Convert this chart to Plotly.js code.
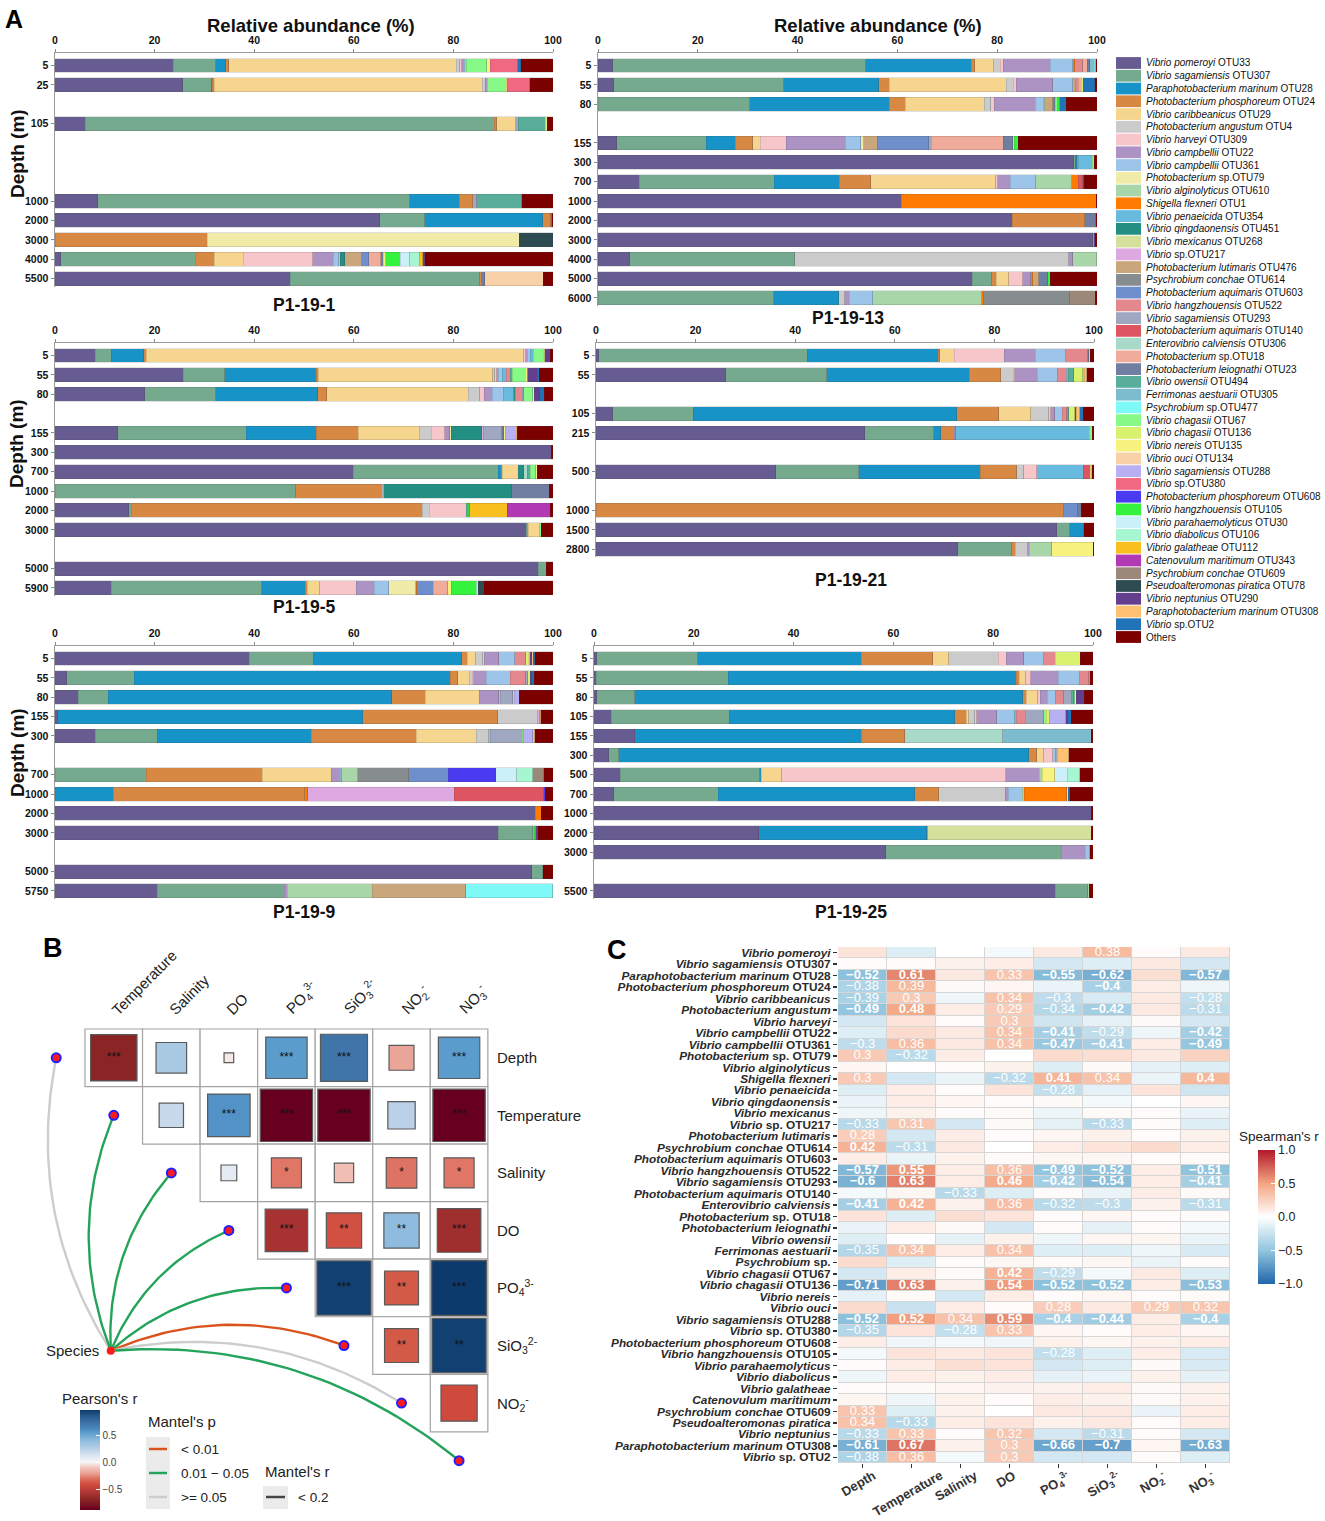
<!DOCTYPE html>
<html><head><meta charset="utf-8">
<script src="https://cdn.plot.ly/plotly-3.0.1.min.js"></script>
<style>html,body{margin:0;padding:0;background:#fff;}#chart{width:1325px;height:1521px;}</style>
</head><body><div id="chart"></div>
<script>
// ================= DATA =================
const species = [
 ['Vibrio pomeroyi','OTU33'],['Vibrio sagamiensis','OTU307'],['Paraphotobacterium marinum','OTU28'],
 ['Photobacterium phosphoreum','OTU24'],['Vibrio caribbeanicus','OTU29'],['Photobacterium angustum','OTU4'],
 ['Vibrio harveyi','OTU309'],['Vibrio campbellii','OTU22'],['Vibrio campbellii','OTU361'],
 ['Photobacterium','sp.OTU79'],['Vibrio alginolyticus','OTU610'],['Shigella flexneri','OTU1'],
 ['Vibrio penaeicida','OTU354'],['Vibrio qingdaonensis','OTU451'],['Vibrio mexicanus','OTU268'],
 ['Vibrio','sp.OTU217'],['Photobacterium lutimaris','OTU476'],['Psychrobium conchae','OTU614'],
 ['Photobacterium aquimaris','OTU603'],['Vibrio hangzhouensis','OTU522'],['Vibrio sagamiensis','OTU293'],
 ['Photobacterium aquimaris','OTU140'],['Enterovibrio calviensis','OTU306'],['Photobacterium','sp.OTU18'],
 ['Photobacterium leiognathi','OTU23'],['Vibrio owensii','OTU494'],['Ferrimonas aestuarii','OTU305'],
 ['Psychrobium','sp.OTU477'],['Vibrio chagasii','OTU67'],['Vibrio chagasii','OTU136'],
 ['Vibrio nereis','OTU135'],['Vibrio ouci','OTU134'],['Vibrio sagamiensis','OTU288'],
 ['Vibrio','sp.OTU380'],['Photobacterium phosphoreum','OTU608'],['Vibrio hangzhouensis','OTU105'],
 ['Vibrio parahaemolyticus','OTU30'],['Vibrio diabolicus','OTU106'],['Vibrio galatheae','OTU112'],
 ['Catenovulum maritimum','OTU343'],['Psychrobium conchae','OTU609'],['Pseudoalteromonas piratica','OTU78'],
 ['Vibrio neptunius','OTU290'],['Paraphotobacterium marinum','OTU308'],['Vibrio','sp.OTU2'],['','Others']
];
const speciesColors = ['#665c92','#76aa8f','#1793c8','#d78944','#f6d58f','#cbcbcb','#f7c6cb','#ad93c3','#9cc5e9',
 '#f0eca8','#a9d6a8','#ff7a00','#68bade','#238f83','#d4e09b','#dda9e0','#c9a67b','#878d8f','#6f8ecc','#e3888c',
 '#a0a8c1','#dc5560','#a9d9c9','#f0ab9b','#6f7ea1','#59ae9b','#7dbbcf','#7ff8f8','#86f986','#d8f26f','#f7f27d',
 '#f9d1a9','#b7b1f3','#f16882','#4b3bf0','#34f23e','#cbf0f9','#a6f6d2','#f8bf1f','#b13ab4','#9c8878','#2f4b52',
 '#643f8f','#fdc171','#1f73b6','#7b0000'];

// composition per depth: [species index, relative abundance %]; null = depth not sampled
const st1Depths = ['5','25','55','105','155','300','700','1000','2000','3000','4000','5500'];
const st1Comp = [
 [[0,23.7],[1,8.6],[2,2.0],[3,0.6],[4,45.7],[5,0.7],[6,0.4],[7,0.5],[8,0.4],[28,4.1],[30,0.7],[33,5.5],[44,0.6],[45,6.5]],
 [[0,25.7],[1,5.7],[2,0.2],[3,0.35],[4,53.8],[5,0.6],[7,0.4],[28,3.9],[30,0.15],[33,4.5],[45,4.7]],
 null,
 [[0,6.1],[1,82.1],[3,0.5],[4,3.8],[20,0.5],[25,5.4],[29,0.4],[45,1.2]],
 null, null, null,
 [[0,8.6],[1,62.6],[2,10.0],[3,2.7],[20,0.8],[25,9.0],[45,6.3]],
 [[0,65.2],[1,9.0],[2,23.7],[3,1.6],[24,0.2],[45,0.3]],
 [[3,30.6],[9,62.6],[41,6.8]],
 [[0,1.2],[1,27.0],[3,3.8],[4,5.8],[6,14.0],[7,4.1],[8,1.1],[10,0.3],[13,0.9],[16,3.4],[18,1.4],[23,2.4],[24,0.5],[30,0.5],[35,2.9],[36,1.9],[37,1.9],[38,0.7],[42,0.4],[45,25.8]],
 [[0,47.2],[1,38.1],[3,0.4],[24,0.6],[31,11.7],[45,2.0]]
];
const st2Depths = ['5','55','80','105','155','300','700','1000','2000','3000','4000','5000','6000'];
const st2Comp = [
 [[0,3.0],[1,50.7],[2,21.1],[3,0.7],[4,3.8],[5,1.3],[6,0.6],[7,9.4],[8,4.5],[11,0.4],[19,1.6],[23,0.9],[24,0.5],[26,0.9],[27,0.3],[45,0.3]],
 [[0,3.2],[1,34.0],[2,19.1],[3,2.1],[4,23.4],[5,1.4],[6,0.6],[7,7.3],[8,4.0],[16,0.5],[19,0.6],[23,0.6],[29,0.4],[44,2.3],[45,0.5]],
 [[1,30.4],[2,28.0],[3,3.2],[4,15.8],[5,1.3],[6,0.7],[7,8.2],[8,1.6],[10,0.3],[16,1.6],[24,0.5],[28,0.4],[35,0.5],[44,1.3],[45,6.2]],
 null,
 [[0,3.8],[1,17.9],[2,5.8],[3,3.5],[4,1.5],[6,5.2],[7,11.8],[8,3.2],[9,0.6],[16,2.7],[18,10.3],[20,0.5],[23,14.4],[24,1.9],[31,0.3],[35,0.8],[45,15.8]],
 [[0,95.3],[1,0.3],[2,0.3],[11,0.3],[12,2.8],[28,0.4],[45,0.6]],
 [[0,8.3],[1,27.0],[2,13.0],[3,6.4],[4,25.0],[6,0.4],[7,2.5],[8,5.1],[10,7.2],[11,1.3],[21,0.9],[42,0.3],[45,2.6]],
 [[0,60.8],[11,39.0],[45,0.2]],
 [[0,83.0],[3,14.5],[24,2.2],[45,0.3]],
 [[0,99.1],[1,0.3],[42,0.2],[45,0.4]],
 [[0,6.4],[1,33.0],[5,54.9],[7,0.8],[10,4.8],[30,0.1]],
 [[0,75.0],[1,3.9],[3,0.9],[4,2.5],[6,2.8],[7,1.6],[11,0.4],[16,1.2],[24,1.8],[35,0.5],[45,9.4]],
 [[1,35.2],[2,13.0],[5,1.2],[7,0.9],[8,4.8],[10,21.8],[11,0.4],[17,17.2],[40,5.1],[45,0.4]]
];
const st3Depths = ['5','55','80','105','155','300','700','1000','2000','3000','4000','5000','5900'];
const st3Comp = [
 [[0,8.1],[1,3.2],[2,6.5],[3,0.5],[4,75.8],[6,0.4],[7,0.3],[8,0.6],[12,0.6],[28,2.0],[29,0.3],[33,0.1],[42,1.0],[45,0.6]],
 [[0,25.8],[1,8.3],[2,18.4],[3,0.4],[4,35.0],[5,0.4],[6,0.4],[7,0.3],[8,0.8],[12,0.8],[19,0.8],[25,0.4],[28,2.6],[30,0.4],[33,0.2],[42,1.8],[44,0.4],[45,2.8]],
 [[0,18.0],[1,14.3],[2,20.5],[3,1.8],[4,28.4],[5,2.3],[6,0.9],[7,1.6],[8,2.2],[12,2.1],[13,0.3],[19,1.4],[20,0.3],[28,1.8],[30,0.3],[42,1.1],[44,0.9],[45,1.8]],
 null,
 [[0,12.6],[1,25.8],[2,14.1],[3,8.4],[4,12.2],[5,2.5],[6,2.7],[7,1.0],[9,0.3],[13,6.1],[15,0.4],[20,3.6],[24,0.4],[30,0.3],[32,2.2],[43,0.2],[45,7.2]],
 [[0,99.6],[45,0.4]],
 [[0,59.9],[1,29.1],[2,0.6],[3,0.2],[4,3.2],[13,1.1],[22,0.7],[25,0.6],[28,1.1],[30,0.3],[45,3.2]],
 [[1,48.3],[3,17.4],[5,0.3],[13,25.7],[24,7.5],[45,0.8]],
 [[0,14.8],[1,0.5],[3,58.4],[5,1.4],[6,7.5],[25,0.4],[35,0.3],[38,7.5],[39,8.6],[45,0.6]],
 [[0,94.6],[1,0.4],[4,2.2],[28,0.4],[45,2.4]],
 null,
 [[0,97.0],[1,1.6],[45,1.4]],
 [[0,11.3],[1,30.2],[2,8.8],[3,0.4],[4,2.5],[6,7.3],[7,3.6],[8,2.9],[9,5.4],[11,0.2],[18,3.4],[23,2.9],[30,0.7],[35,5.0],[37,0.4],[41,1.1],[45,13.9]]
];
const st4Depths = ['5','55','80','105','215','300','500','700','1000','1500','2800'];
const st4Comp = [
 [[0,0.6],[1,41.8],[2,26.3],[3,0.3],[4,2.9],[6,10.1],[7,6.2],[8,6.1],[19,4.4],[24,0.2],[28,0.3],[45,0.8]],
 [[0,26.1],[1,20.2],[2,28.6],[3,6.4],[5,2.5],[6,0.3],[7,4.5],[8,4.0],[19,1.8],[20,0.4],[25,1.1],[29,1.8],[32,0.3],[43,0.5],[45,1.5]],
 null,
 [[0,3.4],[1,16.1],[2,52.9],[3,8.5],[4,6.4],[5,3.6],[6,0.4],[7,0.8],[8,1.5],[19,0.9],[25,0.4],[29,1.2],[42,0.3],[43,0.7],[44,0.7],[45,2.2]],
 [[0,54.0],[1,13.8],[2,1.4],[3,2.7],[7,0.3],[12,26.8],[28,0.4],[30,0.2],[45,0.4]],
 null,
 [[0,36.1],[1,16.7],[2,24.4],[3,7.3],[5,1.4],[6,2.6],[12,9.3],[21,1.4],[30,0.3],[45,0.5]],
 null,
 [[3,93.8],[18,2.8],[24,0.8],[45,2.6]],
 [[0,92.5],[1,2.6],[2,2.8],[45,2.1]],
 [[0,72.6],[1,10.9],[3,0.7],[5,2.5],[7,0.3],[10,4.5],[30,8.3],[45,0.2]]
];
const st5Depths = ['5','55','80','155','300','500','700','1000','2000','3000','4000','5000','5750'];
const st5Comp = [
 [[0,39.0],[1,12.9],[2,29.8],[3,1.1],[4,1.7],[5,1.4],[6,0.3],[7,2.9],[8,3.2],[19,2.2],[29,0.5],[30,0.3],[42,0.4],[43,0.3],[44,0.3],[45,3.7]],
 [[0,2.4],[1,13.5],[2,63.5],[3,1.5],[4,2.3],[5,0.6],[6,0.3],[7,2.5],[8,4.8],[19,3.1],[20,0.4],[29,0.5],[42,0.4],[44,0.4],[45,3.8]],
 [[0,4.7],[1,6.0],[2,56.9],[3,6.7],[4,10.9],[7,3.9],[8,0.3],[20,2.5],[28,0.3],[32,1.0],[45,6.8]],
 [[0,0.6],[2,61.2],[3,27.1],[5,7.9],[15,0.5],[43,0.2],[45,2.5]],
 [[0,8.1],[1,12.4],[2,31.0],[3,21.0],[4,12.1],[5,2.5],[8,0.4],[20,6.3],[28,0.2],[32,1.9],[43,0.4],[45,3.7]],
 null,
 [[1,18.3],[3,23.3],[4,13.9],[7,1.8],[8,0.3],[10,3.2],[17,10.2],[18,8.0],[34,9.5],[36,4.2],[37,3.2],[40,2.2],[45,1.9]],
 [[2,11.7],[3,38.4],[11,0.7],[15,29.4],[21,17.9],[34,0.3],[45,1.6]],
 [[0,96.4],[11,1.2],[45,2.4]],
 [[0,89.0],[1,6.9],[12,0.3],[35,0.3],[42,0.4],[45,3.1]],
 null,
 [[0,95.7],[1,2.2],[45,2.1]],
 [[0,20.5],[1,25.5],[7,0.6],[10,17.1],[16,18.8],[27,17.4],[45,0.1]]
];
const st6Depths = ['5','55','80','105','155','300','500','700','1000','2000','3000','4000','5500'];
const st6Comp = [
 [[0,0.6],[1,20.2],[2,32.8],[3,14.3],[4,3.2],[5,9.9],[6,1.6],[7,3.5],[8,4.0],[19,2.3],[29,5.0],[45,2.6]],
 [[0,0.4],[1,26.5],[2,57.7],[3,0.6],[4,1.3],[6,1.0],[7,5.5],[8,4.3],[19,1.8],[28,0.2],[45,0.7]],
 [[0,0.5],[1,7.7],[2,77.7],[3,0.7],[4,2.3],[6,0.5],[7,1.4],[8,1.6],[19,1.7],[20,1.6],[25,0.4],[28,0.2],[30,0.3],[42,1.6],[45,1.8]],
 [[0,3.5],[1,23.6],[2,45.2],[3,2.3],[4,0.5],[5,1.2],[6,0.4],[7,4.0],[8,3.5],[12,0.4],[19,1.8],[20,3.7],[28,0.5],[29,0.6],[32,3.3],[42,0.4],[44,0.7],[45,4.4]],
 [[0,8.2],[2,45.4],[3,8.7],[22,19.6],[26,17.7],[45,0.4]],
 [[0,3.0],[1,2.0],[2,82.1],[3,1.6],[4,1.4],[6,1.8],[8,0.6],[20,0.3],[43,2.3],[45,4.9]],
 [[0,5.3],[1,27.9],[2,0.3],[4,4.1],[6,44.9],[7,6.7],[10,0.6],[30,2.5],[36,2.5],[37,2.5],[45,2.7]],
 [[0,4.0],[1,20.9],[2,39.4],[3,4.8],[5,13.3],[7,0.6],[8,2.8],[10,0.4],[11,8.5],[30,0.3],[44,0.3],[45,4.7]],
 [[0,99.6],[45,0.4]],
 [[0,33.0],[2,33.7],[10,0.2],[14,32.7],[45,0.4]],
 [[0,58.5],[1,35.1],[7,4.8],[8,0.9],[45,0.7]],
 null,
 [[0,92.4],[1,6.5],[10,0.3],[45,0.8]]
];
const stationNames = ['P1-19-1','P1-19-13','P1-19-5','P1-19-21','P1-19-9','P1-19-25'];

// Panel B: environmental factors, Pearson r (upper triangle rows), significance, Mantel p classes
const envVars = ['Depth','Temperature','Salinity','DO','PO4','SiO3','NO2','NO3'];
const envLabels = ['Depth','Temperature','Salinity','DO','PO<sub>4</sub><sup>3-</sup>','SiO<sub>3</sub><sup>2-</sup>','NO<sub>2</sub><sup>-</sup>','NO<sub>3</sub><sup>-</sup>'];
const pearsonR = [
 [-0.69, 0.30, -0.03, 0.55, 0.71, -0.20, 0.55],
 [0.19, 0.58, -0.88, -0.88, 0.24, -0.88],
 [0.08, -0.29, -0.12, -0.30, -0.29],
 [-0.58, -0.40, 0.40, -0.61],
 [0.94, -0.37, 0.96],
 [-0.37, 0.94],
 [-0.42]
];
const pearsonStars = [
 ['***','','','***','***','','***'],
 ['','***','***','***','','***'],
 ['','*','','*','*'],
 ['***','**','**','***'],
 ['***','**','***'],
 ['**','**'],
 ['']
];
const mantelP = ['>= 0.05','0.01 - 0.05','0.01 - 0.05','0.01 - 0.05','0.01 - 0.05','< 0.01','>= 0.05','0.01 - 0.05'];

// Panel C: Spearman r (rows = species, cols = envVars)
const heatRows = [
 ['Vibrio pomeroyi',''],['Vibrio sagamiensis','OTU307'],['Paraphotobacterium marinum','OTU28'],['Photobacterium phosphoreum','OTU24'],
 ['Vibrio caribbeanicus',''],['Photobacterium angustum',''],['Vibrio harveyi',''],['Vibrio campbellii','OTU22'],['Vibrio campbellii','OTU361'],
 ['Photobacterium','sp. OTU79'],['Vibrio alginolyticus',''],['Shigella flexneri',''],['Vibrio penaeicida',''],['Vibrio qingdaonensis',''],
 ['Vibrio mexicanus',''],['Vibrio','sp. OTU217'],['Photobacterium lutimaris',''],['Psychrobium conchae','OTU614'],['Photobacterium aquimaris','OTU603'],
 ['Vibrio hangzhouensis','OTU522'],['Vibrio sagamiensis','OTU293'],['Photobacterium aquimaris','OTU140'],['Enterovibrio calviensis',''],
 ['Photobacterium','sp. OTU18'],['Photobacterium leiognathi',''],['Vibrio owensii',''],['Ferrimonas aestuarii',''],['Psychrobium','sp.'],
 ['Vibrio chagasii','OTU67'],['Vibrio chagasii','OTU136'],['Vibrio nereis',''],['Vibrio ouci',''],['Vibrio sagamiensis','OTU288'],
 ['Vibrio','sp. OTU380'],['Photobacterium phosphoreum','OTU608'],['Vibrio hangzhouensis','OTU105'],['Vibrio parahaemolyticus',''],
 ['Vibrio diabolicus',''],['Vibrio galatheae',''],['Catenovulum maritimum',''],['Psychrobium conchae','OTU609'],['Pseudoalteromonas piratica',''],
 ['Vibrio neptunius',''],['Paraphotobacterium marinum','OTU308'],['Vibrio','sp. OTU2']
];
const spearman = [
 [0.15,-0.15,0.0,-0.05,0.12,0.38,0.02,0.12],
 [0.02,0.02,0.08,0.1,-0.2,-0.15,0.12,-0.2],
 [-0.52,0.61,0.12,0.33,-0.55,-0.62,0.18,-0.57],
 [-0.38,0.39,0.03,0.05,-0.1,-0.4,0.1,-0.08],
 [-0.39,0.3,-0.08,0.34,-0.3,-0.18,0.12,-0.28],
 [-0.49,0.48,0.1,0.29,-0.34,-0.42,0.12,-0.31],
 [-0.2,0.15,0.02,0.3,-0.22,-0.12,0.03,-0.2],
 [-0.15,0.2,0.12,0.34,-0.41,-0.29,-0.08,-0.42],
 [-0.3,0.36,0.12,0.34,-0.47,-0.41,0.1,-0.49],
 [0.3,-0.32,0.1,0.0,0.2,0.18,0.12,0.25],
 [0.05,0.01,0.02,0.08,-0.15,0.03,-0.12,-0.15],
 [0.3,-0.2,-0.1,-0.32,0.41,0.34,-0.1,0.4],
 [-0.15,0.1,0.02,0.15,-0.28,-0.12,0.15,-0.22],
 [-0.1,0.1,0.05,0.02,0.03,-0.05,0.0,0.05],
 [-0.08,0.08,0.02,0.03,-0.08,0.03,0.02,-0.1],
 [-0.33,0.31,-0.2,0.03,-0.12,-0.33,0.02,-0.15],
 [0.28,-0.2,0.1,0.02,0.05,0.08,0.02,0.08],
 [0.42,-0.31,0.12,0.0,0.1,0.15,0.2,0.1],
 [0.1,-0.1,0.08,0.03,0.05,0.05,0.02,0.03],
 [-0.57,0.55,0.1,0.36,-0.49,-0.52,0.1,-0.51],
 [-0.6,0.63,0.1,0.46,-0.42,-0.54,0.1,-0.41],
 [-0.05,0.05,-0.33,-0.15,0.02,-0.1,0.1,0.03],
 [-0.41,0.42,0.08,0.36,-0.32,-0.3,0.08,-0.31],
 [0.15,-0.15,0.18,0.15,0.02,0.05,0.02,0.02],
 [-0.1,0.1,0.03,-0.2,0.02,-0.12,0.02,-0.05],
 [-0.15,0.0,-0.12,0.08,-0.08,0.05,0.05,-0.1],
 [-0.35,0.34,0.1,0.34,-0.15,-0.15,-0.08,-0.18],
 [0.2,-0.15,0.02,0.05,0.03,0.05,-0.1,0.02],
 [-0.2,0.1,0.03,0.42,-0.29,-0.05,0.12,-0.15],
 [-0.71,0.63,0.08,0.54,-0.52,-0.52,0.1,-0.53],
 [-0.12,0.03,-0.2,0.1,0.02,0.05,0.02,0.03],
 [0.2,-0.25,0.1,0.02,0.28,0.12,0.29,0.32],
 [-0.52,0.52,0.34,0.59,-0.4,-0.44,0.1,-0.4],
 [-0.35,0.15,-0.28,0.33,0.05,0.02,0.1,0.05],
 [0.1,-0.08,-0.05,-0.08,0.08,0.05,0.08,0.1],
 [-0.05,0.15,0.12,0.15,-0.28,-0.15,0.1,-0.18],
 [0.02,0.1,0.18,0.15,-0.2,-0.15,0.03,-0.18],
 [-0.08,0.1,0.08,0.1,-0.12,-0.1,0.08,-0.12],
 [0.02,0.03,0.05,0.08,0.08,0.1,0.03,0.08],
 [0.05,-0.08,0.08,0.02,0.1,0.08,0.03,0.08],
 [0.33,-0.15,0.08,0.0,0.12,0.12,-0.1,0.1],
 [0.34,-0.33,0.1,0.15,0.08,0.12,0.02,0.1],
 [-0.33,0.33,0.02,0.32,-0.2,-0.31,0.02,-0.2],
 [-0.61,0.67,0.08,0.3,-0.66,-0.7,0.05,-0.63],
 [-0.38,0.36,-0.05,0.3,-0.2,-0.2,0.02,-0.15]
];

// ================= BUILD =================
const W = 1325, H = 1521;
const FONT = 'Arial, "Liberation Sans", sans-serif';
const PX = x => x / W, PY = y => 1 - y / H;
const traces = [], shapes = [], annotations = [];
const layout = {
  width: W, height: H, margin: {l:0, r:0, t:0, b:0}, paper_bgcolor: '#fff', plot_bgcolor: 'rgba(0,0,0,0)',
  showlegend: false, barmode: 'stack', font: {family: FONT, color: '#111'}, shapes, annotations
};
function ann(o) {
  annotations.push(Object.assign({showarrow:false, xref:'paper', yref:'paper', xanchor:'center', yanchor:'middle',
    font:{family:FONT, size:12, color:'#111'}}, o));
}

// ---- Panel A: stacked bars ----
const stations = [
  {depths: st1Depths, comp: st1Comp}, {depths: st2Depths, comp: st2Comp},
  {depths: st3Depths, comp: st3Comp}, {depths: st4Depths, comp: st4Comp},
  {depths: st5Depths, comp: st5Comp}, {depths: st6Depths, comp: st6Comp}
];
const barGeom = [
  {x0:55, x1:553, top:53, titleX:304, titleY:305, yTitleY:154},
  {x0:598, x1:1097, top:53, titleX:848, titleY:318},
  {x0:55, x1:553, top:343, titleX:304, titleY:607, yTitleY:444},
  {x0:596, x1:1094, top:343, titleX:851, titleY:580},
  {x0:55, x1:553, top:646, titleX:304, titleY:912, yTitleY:753},
  {x0:594, x1:1093, top:646, titleX:851, titleY:912}
];
const SLOT = 19.37, TOPPAD = 0.645, BOTPAD = 0.41;
stations.forEach((st, p) => {
  const g = barGeom[p];
  const ax = p === 0 ? '' : String(p + 1);
  const n = st.depths.length;
  const bottom = g.top + (n - 1 + BOTPAD + TOPPAD) * SLOT;
  const sampled = st.depths.map((d, i) => st.comp[i] ? i : -1).filter(i => i >= 0);
  layout['xaxis' + ax] = {
    domain: [PX(g.x0), PX(g.x1)], anchor: 'y' + ax, side: 'top', range: [0, 100],
    tickmode: 'array', tickvals: [0, 20, 40, 60, 80, 100], ticks: 'outside', ticklen: 3, tickcolor: '#8a8a8a', tickwidth: 1,
    showline: true, linecolor: '#9a9a9a', linewidth: 1.5, showgrid: false, zeroline: false,
    tickfont: {family: FONT, size: 10.5, weight: 'bold', color: '#111'}, fixedrange: true
  };
  layout['yaxis' + ax] = {
    domain: [PY(bottom), PY(g.top)], anchor: 'x' + ax, range: [n - 1 + BOTPAD, -TOPPAD],
    tickmode: 'array', tickvals: sampled, ticktext: sampled.map(i => st.depths[i]),
    ticks: 'outside', ticklen: 3, tickcolor: '#8a8a8a', showline: true, linecolor: '#9a9a9a', linewidth: 1.5,
    showgrid: false, zeroline: false, tickfont: {family: FONT, size: 10.5, weight: 'bold', color: '#111'}, fixedrange: true
  };
  species.forEach((sp, k) => {
    const xs = [], ys = [];
    st.comp.forEach((c, i) => {
      if (!c) return;
      const e = c.find(q => q[0] === k);
      if (e) { xs.push(e[1]); ys.push(i); }
    });
    if (!xs.length) return;
    traces.push({type: 'bar', orientation: 'h', x: xs, y: ys, xaxis: 'x' + ax, yaxis: 'y' + ax, width: 0.72,
      marker: {color: speciesColors[k], line: {color: 'rgba(70,70,70,0.28)', width: 0.6}}, hoverinfo: 'skip'});
  });
  ann({x: PX(g.titleX), y: PY(g.titleY), text: stationNames[p], font: {family: FONT, size: 17.5, weight: 'bold', color: '#111'}});
  if (g.yTitleY) ann({x: PX(17), y: PY(g.yTitleY), text: 'Depth (m)', textangle: -90, font: {family: FONT, size: 19, weight: 'bold', color: '#111'}});
});
ann({x: PX(311), y: PY(25), text: 'Relative abundance (%)', font: {family: FONT, size: 18.5, weight: 'bold', color: '#111'}});
ann({x: PX(878), y: PY(25), text: 'Relative abundance (%)', font: {family: FONT, size: 18.5, weight: 'bold', color: '#111'}});
ann({x: PX(14), y: PY(19), text: 'A', font: {family: FONT, size: 25, weight: 'bold', color: '#000'}});
ann({x: PX(53), y: PY(948), text: 'B', font: {family: FONT, size: 27, weight: 'bold', color: '#000'}});
ann({x: PX(617), y: PY(950), text: 'C', font: {family: FONT, size: 27, weight: 'bold', color: '#000'}});

// legend (custom, compact)
const LEG_Y0 = 63, LEG_DY = (637 - 63) / 45;
species.forEach((sp, k) => {
  const yc = LEG_Y0 + k * LEG_DY;
  shapes.push({type: 'rect', xref: 'paper', yref: 'paper', x0: PX(1116), x1: PX(1141), y0: PY(yc + 5.9), y1: PY(yc - 5.9), fillcolor: speciesColors[k], line: {width: 0}});
  ann({x: PX(1144), y: PY(yc), xanchor: 'left', text: (sp[0] ? '<i>' + sp[0] + '</i> ' : '') + sp[1], font: {family: FONT, size: 10, color: '#111'}});
});

// ---- Panel B: correlation matrix + Mantel links ----
const CELL = 57.55, GX0 = 85, GY0 = 1029;
const BX0 = 30, BX1 = 495, BY0 = 1015, BY1 = 1478;
layout.xaxis8 = {domain: [PX(BX0), PX(BX1)], anchor: 'y8', range: [(BX0 - GX0) / CELL - 0.5, (BX1 - GX0) / CELL - 0.5], visible: false, fixedrange: true};
layout.yaxis8 = {domain: [PY(BY1), PY(BY0)], anchor: 'x8', range: [(BY1 - GY0) / CELL - 0.5, (BY0 - GY0) / CELL - 0.5], visible: false, fixedrange: true};
const PR_MIN = -0.88, PR_MAX = 0.96;
const pearsonAnchors = [[-0.88,'#67001f'],[-0.69,'#8b2525'],[-0.58,'#a63232'],[-0.42,'#cf4a3c'],[-0.35,'#d6604d'],[-0.28,'#e07a6a'],
  [-0.2,'#e8a598'],[-0.1,'#f2c4bc'],[0,'#f7f7f7'],[0.1,'#e0e8f2'],[0.2,'#c5d7ea'],[0.3,'#a9c9e3'],[0.4,'#8fbcde'],[0.55,'#5a9ccc'],
  [0.6,'#4d8bc2'],[0.71,'#3f75a8'],[0.85,'#285a8c'],[0.96,'#0d3a6c']];
const pearsonScale = pearsonAnchors.map(([v, c]) => [(v - PR_MIN) / (PR_MAX - PR_MIN), c]);
const sqX = [], sqY = [], sqC = [], sqS = [], stX = [], stY = [], stT = [];
pearsonR.forEach((row, i) => row.forEach((r, m) => {
  const c = i + m;
  shapes.push({type: 'rect', xref: 'x8', yref: 'y8', x0: c - 0.5, x1: c + 0.5, y0: i - 0.5, y1: i + 0.5, fillcolor: '#fff', line: {color: '#a3a3a3', width: 1.2}, layer: 'below'});
  sqX.push(c); sqY.push(i); sqC.push(r); sqS.push(Math.sqrt(Math.abs(r)) * CELL * 0.97);
  if (pearsonStars[i][m]) { stX.push(c); stY.push(i); stT.push(pearsonStars[i][m]); }
}));
// Mantel links
const SPX = -0.053, SPY = 5.09;
const mantelColor = {'< 0.01': '#d9531c', '0.01 - 0.05': '#24a35a', '>= 0.05': '#cdcdcd'};
envVars.forEach((v, k) => {
  const tx = k - 1, ty = k, dx = tx - SPX, dy = ty - SPY;
  const cx = (SPX + tx) / 2 + 0.2 * dy, cy = (SPY + ty) / 2 - 0.2 * dx;
  const xs = [], ys = [];
  for (let s = 0; s <= 40; s++) {
    const t = s / 40, a = (1 - t) * (1 - t), b = 2 * (1 - t) * t, d = t * t;
    xs.push(a * SPX + b * cx + d * tx); ys.push(a * SPY + b * cy + d * ty);
  }
  traces.push({type: 'scatter', mode: 'lines', x: xs, y: ys, xaxis: 'x8', yaxis: 'y8', line: {color: mantelColor[mantelP[k]], width: 2.4}, hoverinfo: 'skip'});
});
traces.push({type: 'scatter', mode: 'markers', x: sqX, y: sqY, xaxis: 'x8', yaxis: 'y8', hoverinfo: 'skip', cliponaxis: false,
  marker: {symbol: 'square', size: sqS, opacity: 1, color: sqC, colorscale: pearsonScale, cmin: PR_MIN, cmax: PR_MAX, line: {color: '#5a5a5a', width: 1.2},
    showscale: true, colorbar: {x: PX(80), xanchor: 'left', y: PY(1460.5), yanchor: 'middle', len: 100, lenmode: 'pixels', thickness: 20,
      xpad: 0, ypad: 0, outlinewidth: 0, tickmode: 'array', tickvals: [-0.5, 0, 0.5], ticktext: ['\u22120.5', '0.0', '0.5'],
      ticks: 'inside', ticklen: 4, tickcolor: '#fff', tickfont: {family: FONT, size: 10, color: '#444'}}}});
traces.push({type: 'scatter', mode: 'text', x: stX, y: stY, text: stT, xaxis: 'x8', yaxis: 'y8', hoverinfo: 'skip',
  textfont: {family: FONT, size: 12, color: '#111'}, textposition: 'middle center'});
traces.push({type: 'scatter', mode: 'markers', x: envVars.map((v, k) => k - 1), y: envVars.map((v, k) => k), xaxis: 'x8', yaxis: 'y8', hoverinfo: 'skip', cliponaxis: false,
  marker: {size: 9, color: '#ff1a1a', line: {color: '#2020ff', width: 2}}});
traces.push({type: 'scatter', mode: 'markers', x: [SPX], y: [SPY], xaxis: 'x8', yaxis: 'y8', hoverinfo: 'skip', cliponaxis: false,
  marker: {size: 8, color: '#ff1a1a'}});
envVars.forEach((v, k) => {
  if (k >= 1) annotations.push({xref: 'x8', yref: 'y8', x: k - 1 - 0.14, y: -0.64, text: envLabels[k], textangle: -45, showarrow: false,
    xanchor: 'left', yanchor: 'bottom', font: {family: FONT, size: 15, color: '#222'}});
  if (k <= 6) annotations.push({xref: 'x8', yref: 'y8', x: 6.62, y: k, text: envLabels[k], showarrow: false,
    xanchor: 'left', yanchor: 'middle', font: {family: FONT, size: 15, color: '#222'}});
});
annotations.push({xref: 'x8', yref: 'y8', x: SPX - 0.17, y: SPY, text: 'Species', showarrow: false, xanchor: 'right', yanchor: 'middle', font: {family: FONT, size: 15, color: '#222'}});
// B legends
ann({x: PX(60), y: PY(1398), xanchor: 'left', text: "Pearson's r", font: {family: FONT, size: 15, color: '#222'}});
ann({x: PX(146), y: PY(1421), xanchor: 'left', text: "Mantel's p", font: {family: FONT, size: 15, color: '#222'}});
shapes.push({type: 'rect', xref: 'paper', yref: 'paper', x0: PX(146), x1: PX(170), y0: PY(1509), y1: PY(1437), fillcolor: '#ebebeb', line: {width: 0}});
['< 0.01', '0.01 - 0.05', '>= 0.05'].forEach((key, i) => {
  const yy = 1449 + i * 24;
  shapes.push({type: 'line', xref: 'paper', yref: 'paper', x0: PX(149), x1: PX(167), y0: PY(yy), y1: PY(yy), line: {color: mantelColor[key], width: 2.5}});
  ann({x: PX(179), y: PY(yy), xanchor: 'left', text: key.replace(' - ', ' \u2212 '), font: {family: FONT, size: 13.5, color: '#222'}});
});
ann({x: PX(263), y: PY(1471), xanchor: 'left', text: "Mantel's r", font: {family: FONT, size: 15, color: '#222'}});
shapes.push({type: 'rect', xref: 'paper', yref: 'paper', x0: PX(263), x1: PX(288), y0: PY(1509), y1: PY(1486), fillcolor: '#ebebeb', line: {width: 0}});
shapes.push({type: 'line', xref: 'paper', yref: 'paper', x0: PX(266), x1: PX(285), y0: PY(1497), y1: PY(1497), line: {color: '#444', width: 2.5}});
ann({x: PX(296), y: PY(1497), xanchor: 'left', text: '< 0.2', font: {family: FONT, size: 13.5, color: '#222'}});

// ---- Panel C: Spearman heatmap ----
const rowKeys = heatRows.map(r => r[1] ? r[0] + ' ' + r[1] : r[0]);
layout.xaxis7 = {domain: [PX(838), PX(1230)], anchor: 'y7', type: 'category', range: [-0.5, envVars.length - 0.5], showticklabels: false,
  ticks: 'outside', ticklen: 4, tickwidth: 1.5, tickcolor: '#333', showgrid: false, zeroline: false, showline: false, fixedrange: true};
layout.yaxis7 = {domain: [PY(1463), PY(947)], anchor: 'x7', type: 'category', range: [rowKeys.length - 0.5, -0.5], tickmode: 'array', tickvals: rowKeys,
  ticktext: heatRows.map(r => '<i>' + r[0] + '</i>' + (r[1] ? ' ' + r[1] : '')), ticks: 'outside', ticklen: 4, tickwidth: 1.5, tickcolor: '#333',
  tickfont: {family: FONT, size: 11.8, weight: 'bold', color: '#2a2a2a'}, showgrid: false, zeroline: false, showline: false, fixedrange: true};
shapes.push({type: 'rect', xref: 'x7 domain', yref: 'y7 domain', x0: 0, x1: 1, y0: 0, y1: 1, fillcolor: '#d6d6d6', line: {width: 0}, layer: 'below'});
traces.push({type: 'heatmap', x: envVars, y: rowKeys, z: spearman, xaxis: 'x7', yaxis: 'y7', zmin: -1, zmax: 1, xgap: 1, ygap: 1, hoverinfo: 'skip',
  colorscale: [[0, '#2166ac'], [0.25, '#92c5de'], [0.5, '#ffffff'], [0.75, '#f4a582'], [1, '#b2182b']],
  colorbar: {x: PX(1258), xanchor: 'left', y: PY(1217), yanchor: 'middle', len: 134, lenmode: 'pixels', thickness: 17, xpad: 0, ypad: 0, outlinewidth: 0,
    tickmode: 'array', tickvals: [-1, -0.5, 0, 0.5, 1], ticktext: ['\u22121.0', '\u22120.5', '0.0', '0.5', '1.0'], ticks: 'inside', ticklen: 4, tickcolor: '#fff',
    tickfont: {family: FONT, size: 12.5, color: '#222'}}});
const lx = [], ly = [], lt = [];
spearman.forEach((row, i) => row.forEach((v, j) => {
  if (Math.abs(v) >= 0.28) {
    const s = String(v).replace('-', '\u2212');
    lx.push(envVars[j]); ly.push(rowKeys[i]); lt.push(Math.abs(v) >= 0.4 ? '<b>' + s + '</b>' : s);
  }
}));
traces.push({type: 'scatter', mode: 'text', x: lx, y: ly, text: lt, xaxis: 'x7', yaxis: 'y7', hoverinfo: 'skip', cliponaxis: false,
  textfont: {family: FONT, size: 13, color: '#fff'}, textposition: 'middle center'});
envVars.forEach((v, k) => {
  annotations.push({xref: 'x7', yref: 'paper', x: v, y: PY(1465), text: envLabels[k], textangle: -30, showarrow: false, xanchor: 'center', yanchor: 'top', xshift: -4,
    font: {family: FONT, size: 13, weight: 'bold', color: '#333'}});
});
ann({x: PX(1237), y: PY(1136), xanchor: 'left', text: "Spearman's r", font: {family: FONT, size: 13.5, color: '#222'}});

Plotly.newPlot('chart', traces, layout, {displayModeBar: false, staticPlot: true});
</script></body></html>
